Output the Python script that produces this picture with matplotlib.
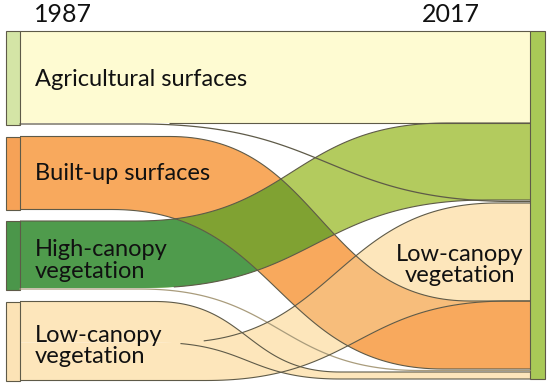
# -*- coding: utf-8 -*-
"""
Land cover change 1987 -> 2017, drawn as an alluvial diagram
"""

import numpy as np
import matplotlib
matplotlib.use("Agg")
from matplotlib import pyplot as plt
from matplotlib.patches import Polygon, Rectangle

# ---- data ----
years = ["1987", "2017"]
classes = ["Agricultural surfaces", "Built-up surfaces",
           "High-canopy\nvegetation", "Low-canopy\nvegetation"]

# flows: source class -> target class, band width at the 1987 and 2017 side
flow_src = [0, 0, 1, 2, 2, 3, 3]
flow_dst = [0, 2, 1, 2, 1, 1, 3]
width_1987 = [92, 2, 73, 67, 2, 41, 38]
width_2017 = [92, 3, 68, 77, 3, 7, 98]

# stacking order of the flows in each column, top to bottom
stack_1987 = [0, 1, 2, 3, 4, 5, 6]
stack_2017 = [0, 3, 1, 6, 2, 4, 5]

# ---- layout / style ----
x_left, x_right = 20, 530
y_top = 31
gap_1987, gap_2017 = 11.5, 0
# where each band edge starts and stops bending (top edge, bottom edge)
bend_top = [(140, 470), (140, 515), (170, 470), (137, 447), (140, 420), (155, 340), (175, 497)]
bend_bot = [(140, 470), (140, 515), (112, 443), (143, 488), (140, 420), (155, 340), (206, 509)]

c_agri = "#fefbd2"
c_built = "#f8a95d"
c_high = "#4f9b4c"
c_high_light = "#b3cb5e"
c_olive = "#80a232"
c_low = "#fde6bb"
c_low_on_built = "#f7bd7b"
flow_color = [c_agri, c_agri, c_built, c_high_light, c_high_light, c_low, c_low]
thin_line = ["#5e5a48", "#5e5a48", "#5e5a48", "#5e5a48", "#a99c7c", "#5e5a48", "#5e5a48"]
bar_color = ["#d4e5a6", "#f6a257", "#4b964a", "#fce3b6"]
line_c = "#5e5a48"


def stack(order, widths, src, gap):
    """top/bottom of every flow in one column"""
    top = np.zeros(len(widths))
    y = y_top
    prev = None
    for i in order:
        if prev is not None and src[i] != prev:
            y += gap
        top[i] = y
        y += widths[i]
        prev = src[i]
    return top, top + np.array(widths)


def edge(y0, y1, xa, xb, n=80):
    t = np.linspace(0, 1, n)
    xm = (xa + xb) / 2.
    x = (1 - t)**3 * xa + 3 * (1 - t) * t * xm + t**3 * xb
    y = y0 + (y1 - y0) * (3 * t**2 - 2 * t**3)
    x = np.concatenate([[x_left], x, [x_right]])
    y = np.concatenate([[y0], y, [y1]])
    return x, y


l_top, l_bot = stack(stack_1987, width_1987, flow_src, gap_1987)
r_top, r_bot = stack(stack_2017, width_2017, flow_dst, gap_2017)
thin = [w <= 3 for w in width_1987]

plt.rcParams.update({"font.family": ["Lato", "DejaVu Sans"]})
fig = plt.figure(figsize=(5.5, 3.88), dpi=100)
ax = fig.add_axes([0, 0, 1, 1])
ax.set_xlim(0, 550)
ax.set_ylim(388, 0)
ax.axis("off")

edges_top, edges_bot, bands = [], [], []
for i in range(len(flow_src)):
    xt, yt = edge(l_top[i], r_top[i], *bend_top[i])
    xb, yb = edge(l_bot[i], r_bot[i], *bend_bot[i])
    edges_top.append((xt, yt))
    edges_bot.append((xb, yb))
    bands.append(np.vstack([np.column_stack([xt, yt]), np.column_stack([xb, yb])[::-1]]))

# clip regions around the built-up band
built = 2
clip_band = Polygon(bands[built], transform=ax.transData)
xb_, yb_ = edges_bot[built]
clip_below = Polygon(np.vstack([np.column_stack([xb_, yb_]), [[560, 400], [-10, 400]]]),
                     transform=ax.transData)

draw_order = [0, 2, 6, 5, 3, 4, 1]
for i in draw_order:
    if thin[i]:
        continue
    ax.add_patch(Polygon(bands[i], closed=True, fc=flow_color[i], ec="none"))
    if i == 3:  # high-canopy band: dark green below built-up band, olive across it
        p = Polygon(bands[i], closed=True, fc=c_high, ec="none")
        ax.add_patch(p)
        p.set_clip_path(clip_below)
        p = Polygon(bands[i], closed=True, fc=c_olive, ec="none")
        ax.add_patch(p)
        p.set_clip_path(clip_band)
    if i == 6:  # low-canopy band crossing the built-up band
        p = Polygon(bands[i], closed=True, fc=c_low_on_built, ec="none")
        ax.add_patch(p)
        p.set_clip_path(clip_band)

# band outlines; edges inside a 1987 node only show where they bend away
for i in range(len(flow_src)):
    if thin[i]:
        xt, yt = edges_top[i]
        xb, yb = edges_bot[i]
        ax.plot((xt + xb) / 2, (yt + yb) / 2, c=thin_line[i], lw=0.9)
        continue
    same = [j for j in range(len(flow_src)) if flow_src[j] == flow_src[i]]
    first = l_top[i] == min(l_top[same])
    last = l_bot[i] == max(l_bot[same])
    for (x, y), outer, xa in [(edges_top[i], first, bend_top[i][0]), (edges_bot[i], last, bend_bot[i][0])]:
        m = np.ones(len(x), bool) if outer else x >= xa + 25
        ax.plot(x[m], y[m], c=line_c, lw=0.8, solid_capstyle="butt")

# node bars and labels
for k in range(len(classes)):
    idx = [i for i in range(len(flow_src)) if flow_src[i] == k]
    y0, y1 = min(l_top[idx]), max(l_bot[idx])
    ax.add_patch(Rectangle((6, y0), x_left - 6, y1 - y0, fc=bar_color[k], ec=line_c, lw=0.8))
    dy = 1 if k < 2 else 5
    ax.text(35, (y0 + y1) / 2 + dy, classes[k], fontsize=17, va="center", ha="left",
            color="#111111", linespacing=1.0)

ax.add_patch(Rectangle((x_right, y_top), 15, max(r_bot) - y_top, fc="#a9c957", ec=line_c, lw=0.8))
idx = [i for i in range(len(flow_dst)) if flow_dst[i] == 3]
ax.text(460, (min(r_top[idx]) + max(r_bot[idx])) / 2 + 13, classes[3], fontsize=17,
        va="center", ha="center", color="#111111", linespacing=1.0)

ax.text(63, 14, years[0], fontsize=18, ha="center", va="center", color="#111111")
ax.text(451, 14, years[1], fontsize=18, ha="center", va="center", color="#111111")

plt.savefig("out.png", dpi=100)
